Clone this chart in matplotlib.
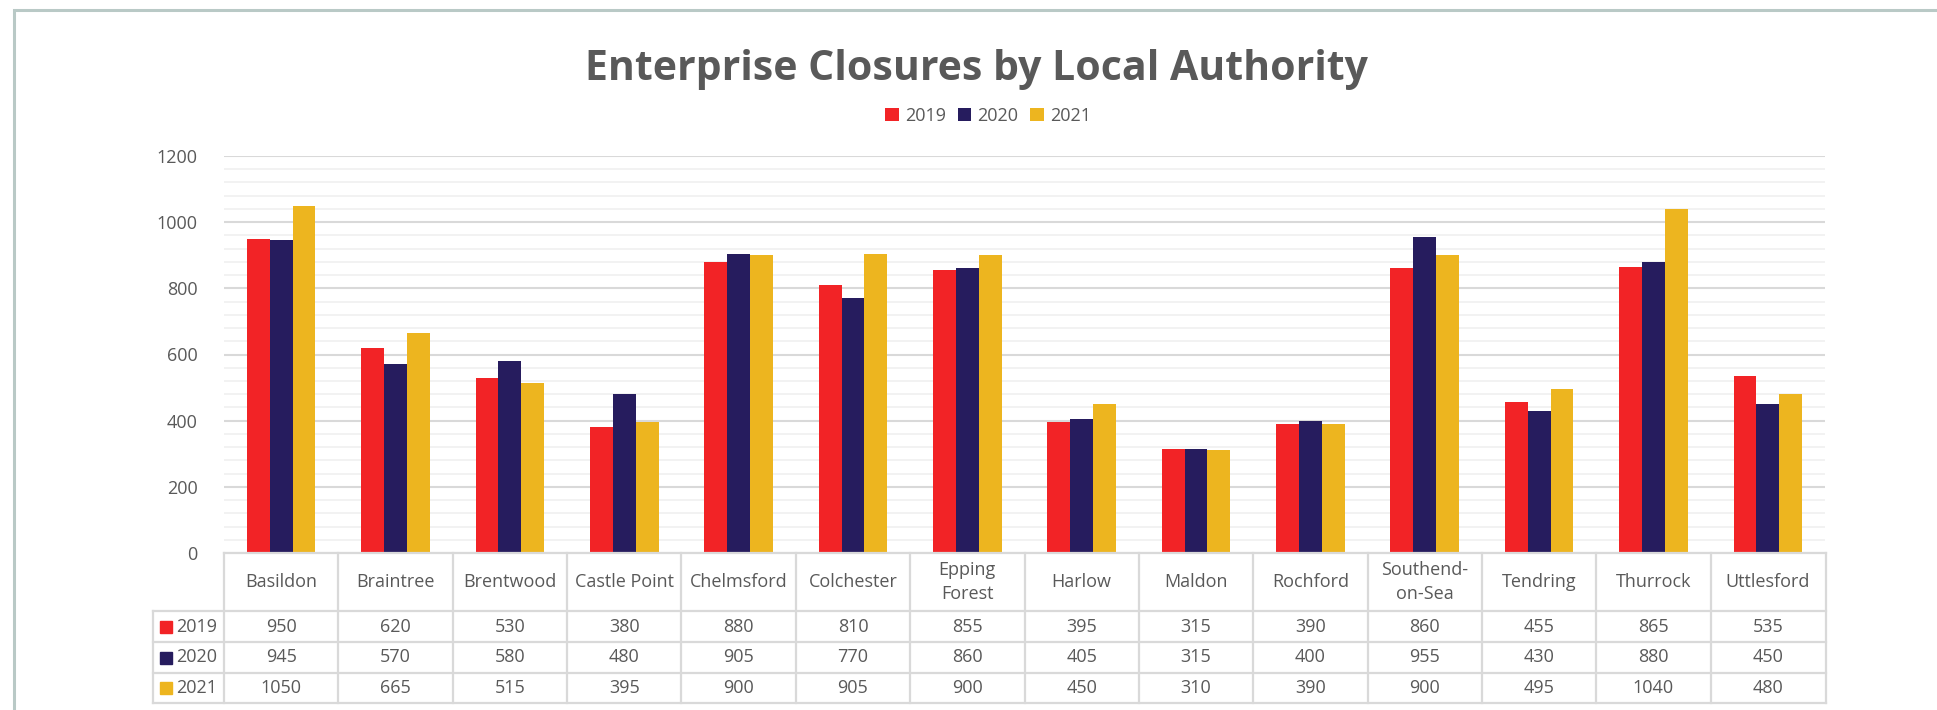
import matplotlib
matplotlib.use("Agg")
import matplotlib.pyplot as plt
from matplotlib.patches import Rectangle, Patch
import numpy as np

# ---------------- data ----------------
categories = ["Basildon", "Braintree", "Brentwood", "Castle Point", "Chelmsford",
              "Colchester", "Epping\nForest", "Harlow", "Maldon", "Rochford",
              "Southend-\non-Sea", "Tendring", "Thurrock", "Uttlesford"]
series_names = ["2019", "2020", "2021"]
vals_2019 = [950, 620, 530, 380, 880, 810, 855, 395, 315, 390, 860, 455, 865, 535]
vals_2020 = [945, 570, 580, 480, 905, 770, 860, 405, 315, 400, 955, 430, 880, 450]
vals_2021 = [1050, 665, 515, 395, 900, 905, 900, 450, 310, 390, 900, 495, 1040, 480]
y_ticks = [0, 200, 400, 600, 800, 1000, 1200]
title = "Enterprise Closures by Local Authority"

colors = ["#F22326", "#261C5E", "#EDB51F"]
text_color = "#595959"
FONT = ["Open Sans", "DejaVu Sans"]
plt.rcParams["font.family"] = FONT
FS = 13

W, H = 1937, 710
fig = plt.figure(figsize=(W / 100, H / 100), dpi=100)
fig.patch.set_facecolor("white")


def rect(l, t, r, b):
    return [l / W, 1 - b / H, (r - l) / W, (b - t) / H]


# frame border
fig.patches.append(Rectangle((14 / W, -0.1), 1.2, 1 - 10 / H + 0.1,
                             transform=fig.transFigure, fill=False,
                             edgecolor="#B9C9C6", linewidth=2.2))

# ---------------- main chart ----------------
L, T, R, B = 224, 156, 1825, 553
ax = fig.add_axes(rect(L, T, R, B))
n = len(categories)
x = np.arange(n)
series = [vals_2019, vals_2020, vals_2021]
bw = 0.2
for i, (vals, c) in enumerate(zip(series, colors)):
    ax.bar(x + (i - 1) * bw, vals, width=bw, color=c, zorder=3, linewidth=0)

ax.set_xlim(-0.5, n - 0.5)
ax.set_ylim(0, 1200)
ax.set_yticks(y_ticks)
ax.set_yticks(np.arange(0, 1201, 40), minor=True)
ax.grid(axis="y", which="minor", color="#F0F0F0", linewidth=1.2, zorder=0)
ax.grid(axis="y", which="major", color="#D9D9D9", linewidth=1.5, zorder=1)
ax.set_xticks([])
ax.tick_params(axis="y", which="both", length=0, pad=19, labelsize=FS,
               labelcolor=text_color)
for s in ax.spines.values():
    s.set_visible(False)

# ---------------- data table ----------------
TL, TT, TR, TB = 153, 553, 1826, 703
tax = fig.add_axes(rect(TL, TT, TR, TB))
cat_w = (R - L) / n
x_left = -0.5 - (L - TL) / cat_w
x_right = n - 0.5 + (TR - R) / cat_w
tax.set_xlim(x_left, x_right)
tax.set_ylim(TB - TT, 0)
tax.axis("off")
row_edges = [0, 58, 89, 120, 150]
lc = "#D9D9D9"
lw = 1.6
kw = dict(color=lc, linewidth=lw, clip_on=False, solid_capstyle="projecting")
tax.plot([-0.5, x_right], [0, 0], **kw)
for yv in row_edges[1:]:
    tax.plot([x_left, x_right], [yv, yv], **kw)
for k in range(n + 1):
    xv = -0.5 + k if k < n else x_right
    tax.plot([xv, xv], [0, 150], **kw)
tax.plot([x_left, x_left], [58, 150], **kw)

for k, c in enumerate(categories):
    tax.text(k, 29, c, ha="center", va="center", fontsize=FS,
             color=text_color, linespacing=1.45)
for r, (name, vals, col) in enumerate(zip(series_names, series, colors)):
    yc = (row_edges[r + 1] + row_edges[r + 2]) / 2
    sq_x = x_left + (166 - TL) / cat_w
    tax.plot([sq_x], [yc], marker="s", markersize=8, color=col, clip_on=False,
             linestyle="none")
    tax.text(x_left + (176 - TL) / cat_w, yc, name, ha="left", va="center",
             fontsize=FS, color=text_color)
    for k, v in enumerate(vals):
        tax.text(k, yc, str(v), ha="center", va="center", fontsize=FS,
                 color=text_color)

# ---------------- title & legend ----------------
fig.text(976 / W, 1 - 69 / H, title, ha="center", va="center", fontsize=29.5,
         fontweight="bold", color=text_color)
handles = [Patch(facecolor=c, edgecolor="none") for c in colors]
fig.legend(handles, series_names, loc="center", bbox_to_anchor=(988 / W, 1 - 116 / H),
           ncol=3, frameon=False, fontsize=FS, handlelength=0.75, handleheight=0.75,
           handletextpad=0.35, columnspacing=0.65, labelcolor=text_color)

fig.savefig("out.png", dpi=100, facecolor="white")
